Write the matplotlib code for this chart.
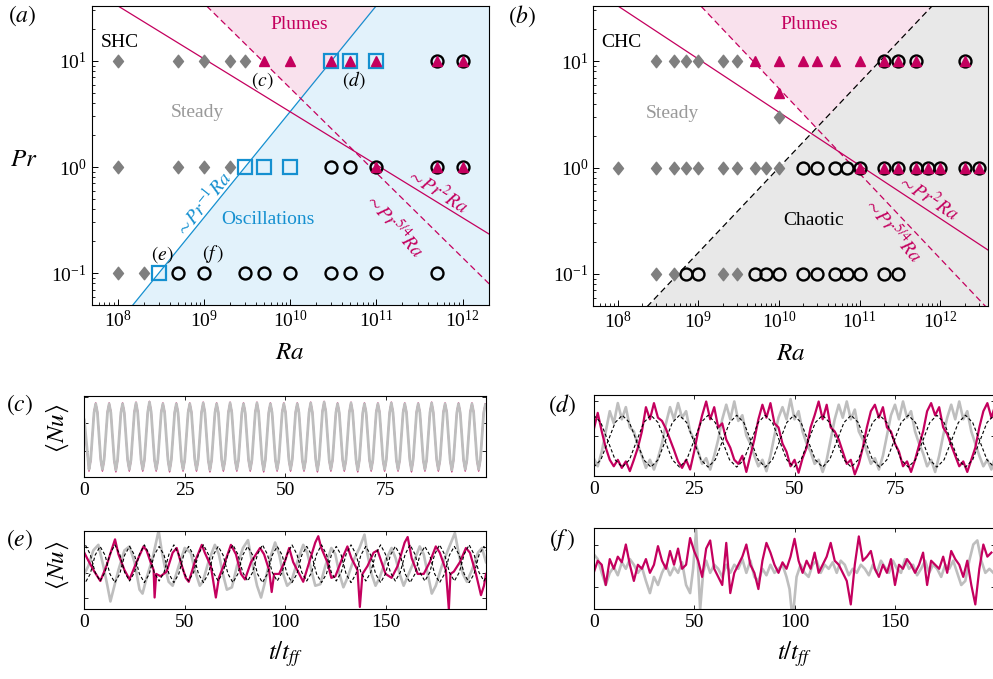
import numpy as np
import matplotlib
matplotlib.use("Agg")
import matplotlib.pyplot as plt
from matplotlib.path import Path

plt.rcParams['font.family'] = ['Liberation Serif', 'DejaVu Serif']
plt.rcParams['mathtext.fontset'] = 'stix'

# ---------------- colours ----------------
MAG = '#C4005E'
PINK = '#F9E1ED'
BLUE = '#1590D0'
LBLUE = '#E2F2FB'
GREYM = '#7F7F7F'
GFILL = '#E8E8E8'
GLINE = '#BEBEBE'

# ---------------- regime-diagram data (a) SHC ----------------
a_steady_Ra = [1e8, 5e8, 1e9, 2e9, 3e9, 1e8, 5e8, 1e9, 2e9, 1e8, 2e8]
a_steady_Pr = [10, 10, 10, 10, 10, 1, 1, 1, 1, 0.1, 0.1]
a_osc_Ra = [3e10, 5e10, 1e11, 3e9, 5e9, 1e10, 3e8]
a_osc_Pr = [10, 10, 10, 1, 1, 1, 0.1]
a_chaos_Ra = [5e11, 1e12, 3e10, 5e10, 1e11, 5e11, 1e12,
              5e8, 1e9, 3e9, 5e9, 1e10, 3e10, 5e10, 1e11, 5e11]
a_chaos_Pr = [10, 10, 1, 1, 1, 1, 1,
              0.1, 0.1, 0.1, 0.1, 0.1, 0.1, 0.1, 0.1, 0.1]
a_plume_Ra = [5e9, 1e10, 3e10, 5e10, 1e11, 5e11, 1e12, 1e11, 5e11, 1e12]
a_plume_Pr = [10, 10, 10, 10, 10, 10, 10, 1, 1, 1]

# ---------------- regime-diagram data (b) CHC ----------------
b_steady_Ra = [3e8, 5e8, 7e8, 1e9, 2e9, 3e9, 1e10,
               1e8, 3e8, 5e8, 7e8, 1e9, 2e9, 3e9, 5e9, 7e9, 1e10,
               3e8, 5e8, 2e9, 3e9]
b_steady_Pr = [10, 10, 10, 10, 10, 10, 3,
               1, 1, 1, 1, 1, 1, 1, 1, 1, 1,
               0.1, 0.1, 0.1, 0.1]
b_chaos_Ra = [2e11, 3e11, 5e11, 2e12,
              2e10, 3e10, 5e10, 7e10, 1e11, 2e11, 3e11, 5e11, 7e11, 1e12, 2e12, 3e12,
              7e8, 1e9, 5e9, 7e9, 1e10, 2e10, 3e10, 5e10, 7e10, 1e11, 2e11, 3e11]
b_chaos_Pr = [10, 10, 10, 10,
              1, 1, 1, 1, 1, 1, 1, 1, 1, 1, 1, 1,
              0.1, 0.1, 0.1, 0.1, 0.1, 0.1, 0.1, 0.1, 0.1, 0.1, 0.1, 0.1]
b_plume_Ra = [5e9, 1e10, 2e10, 3e10, 5e10, 1e11, 2e11, 3e11, 5e11, 2e12, 1e10,
              1e11, 2e11, 3e11, 5e11, 7e11, 1e12, 2e12, 3e12]
b_plume_Pr = [10, 10, 10, 10, 10, 10, 10, 10, 10, 10, 5,
              1, 1, 1, 1, 1, 1, 1, 1]

# scaling-law prefactors of the regime boundaries
C_osc = 3e9      # Pr^-1 Ra
C_pr2 = 1.1e11   # Pr^2 Ra
C_pr54 = 8.5e10  # Pr^(5/4) Ra
C_chc = 1e10     # Pr^(-5/4) Ra (CHC chaotic boundary)

# ---------------- time series ----------------
# (c): samples every 1/8 of the 3.345 t_ff oscillation period
c_t = [0.0] + list(np.round(np.arange(1.17, 100.2, 0.41813), 3))
c_grey = [0.70,
          0.09, 0.21, 0.50, 0.79, 0.90, 0.79, 0.50, 0.21,
          0.09, 0.21, 0.50, 0.79, 0.90, 0.79, 0.50, 0.21,
          0.08, 0.21, 0.50, 0.79, 0.90, 0.79, 0.50, 0.21,
          0.09, 0.21, 0.50, 0.79, 0.91, 0.79, 0.50, 0.21,
          0.09, 0.21, 0.50, 0.80, 0.92, 0.80, 0.50, 0.21,
          0.09, 0.21, 0.50, 0.79, 0.90, 0.79, 0.50, 0.21,
          0.08, 0.21, 0.50, 0.79, 0.90, 0.79, 0.50, 0.21,
          0.09, 0.21, 0.50, 0.79, 0.90, 0.79, 0.50, 0.21,
          0.09, 0.21, 0.50, 0.79, 0.91, 0.79, 0.50, 0.21,
          0.08, 0.21, 0.50, 0.79, 0.90, 0.79, 0.50, 0.21,
          0.09, 0.21, 0.50, 0.79, 0.91, 0.79, 0.50, 0.21,
          0.09, 0.21, 0.50, 0.79, 0.90, 0.79, 0.50, 0.21,
          0.09, 0.21, 0.50, 0.79, 0.91, 0.79, 0.50, 0.21,
          0.08, 0.21, 0.50, 0.79, 0.90, 0.79, 0.50, 0.21,
          0.09, 0.21, 0.50, 0.79, 0.90, 0.79, 0.50, 0.21,
          0.09, 0.21, 0.50, 0.79, 0.90, 0.79, 0.50, 0.21,
          0.09, 0.21, 0.50, 0.79, 0.91, 0.79, 0.50, 0.21,
          0.08, 0.21, 0.50, 0.80, 0.92, 0.80, 0.50, 0.21,
          0.09, 0.21, 0.50, 0.79, 0.90, 0.79, 0.50, 0.21,
          0.09, 0.21, 0.50, 0.79, 0.91, 0.79, 0.50, 0.21,
          0.08, 0.21, 0.50, 0.79, 0.90, 0.79, 0.50, 0.21,
          0.09, 0.21, 0.50, 0.79, 0.90, 0.79, 0.50, 0.21,
          0.09, 0.21, 0.50, 0.79, 0.91, 0.79, 0.50, 0.21,
          0.09, 0.21, 0.50, 0.79, 0.90, 0.79, 0.50, 0.21,
          0.08, 0.21, 0.50, 0.79, 0.90, 0.79, 0.50, 0.21,
          0.09, 0.21, 0.50, 0.79, 0.91, 0.79, 0.50, 0.21,
          0.09, 0.21, 0.50, 0.79, 0.90, 0.79, 0.50, 0.21,
          0.08, 0.21, 0.50, 0.79, 0.90, 0.79, 0.50, 0.21,
          0.09, 0.21, 0.50, 0.79, 0.90, 0.79, 0.50, 0.21,
          0.09, 0.21, 0.50, 0.79, 0.89]
c_mag = [0.68,
         0.07, 0.19, 0.50, 0.81, 0.91, 0.81, 0.50, 0.19,
         0.07, 0.19, 0.50, 0.81, 0.91, 0.81, 0.50, 0.19,
         0.06, 0.19, 0.50, 0.81, 0.91, 0.81, 0.50, 0.19,
         0.07, 0.19, 0.50, 0.81, 0.92, 0.81, 0.50, 0.19,
         0.07, 0.19, 0.50, 0.82, 0.93, 0.82, 0.50, 0.19,
         0.07, 0.19, 0.50, 0.81, 0.91, 0.81, 0.50, 0.19,
         0.06, 0.19, 0.50, 0.81, 0.91, 0.81, 0.50, 0.19,
         0.07, 0.19, 0.50, 0.81, 0.91, 0.81, 0.50, 0.19,
         0.07, 0.19, 0.50, 0.81, 0.92, 0.81, 0.50, 0.19,
         0.06, 0.19, 0.50, 0.81, 0.91, 0.81, 0.50, 0.19,
         0.07, 0.19, 0.50, 0.81, 0.92, 0.81, 0.50, 0.19,
         0.07, 0.19, 0.50, 0.81, 0.91, 0.81, 0.50, 0.19,
         0.07, 0.19, 0.50, 0.81, 0.92, 0.81, 0.50, 0.19,
         0.06, 0.19, 0.50, 0.81, 0.91, 0.81, 0.50, 0.19,
         0.07, 0.19, 0.50, 0.81, 0.91, 0.81, 0.50, 0.19,
         0.07, 0.19, 0.50, 0.81, 0.91, 0.81, 0.50, 0.19,
         0.07, 0.19, 0.50, 0.81, 0.92, 0.81, 0.50, 0.19,
         0.06, 0.19, 0.50, 0.82, 0.93, 0.82, 0.50, 0.19,
         0.07, 0.19, 0.50, 0.81, 0.91, 0.81, 0.50, 0.19,
         0.07, 0.19, 0.50, 0.81, 0.92, 0.81, 0.50, 0.19,
         0.06, 0.19, 0.50, 0.81, 0.91, 0.81, 0.50, 0.19,
         0.07, 0.19, 0.50, 0.81, 0.91, 0.81, 0.50, 0.19,
         0.07, 0.19, 0.50, 0.81, 0.92, 0.81, 0.50, 0.19,
         0.07, 0.19, 0.50, 0.81, 0.91, 0.81, 0.50, 0.19,
         0.06, 0.19, 0.50, 0.81, 0.91, 0.81, 0.50, 0.19,
         0.07, 0.19, 0.50, 0.81, 0.92, 0.81, 0.50, 0.19,
         0.07, 0.19, 0.50, 0.81, 0.91, 0.81, 0.50, 0.19,
         0.06, 0.19, 0.50, 0.81, 0.91, 0.81, 0.50, 0.19,
         0.07, 0.19, 0.50, 0.81, 0.91, 0.81, 0.50, 0.19,
         0.07, 0.19, 0.50, 0.81, 0.90]

d_t = list(range(101))
d_mag = [0.57, 0.78, 0.55, 0.35, 0.20, 0.12, 0.20, 0.10, 0.18, 0.06,
         0.20, 0.35, 0.55, 0.85, 0.70, 0.90, 0.72, 0.68, 0.58, 0.45,
         0.32, 0.18, 0.10, 0.20, 0.08, 0.30, 0.55, 0.75, 0.92, 0.70,
         0.85, 0.60, 0.65, 0.45, 0.35, 0.20, 0.15, 0.25, 0.05, 0.25,
         0.45, 0.70, 0.88, 0.72, 0.90, 0.65, 0.60, 0.40, 0.30, 0.12,
         0.20, 0.04, 0.22, 0.35, 0.60, 0.75, 0.92, 0.70, 0.88, 0.60,
         0.55, 0.45, 0.30, 0.15, 0.20, 0.02, 0.15, 0.35, 0.60, 0.80,
         0.88, 0.72, 0.85, 0.60, 0.55, 0.40, 0.30, 0.12, 0.18, 0.05,
         0.20, 0.38, 0.55, 0.80, 0.90, 0.75, 0.85, 0.60, 0.52, 0.38,
         0.25, 0.12, 0.18, 0.05, 0.20, 0.35, 0.60, 0.80, 0.90, 0.72, 0.88]
d_grey = [0.22, 0.12, 0.30, 0.55, 0.80, 0.65, 0.90, 0.70, 0.85, 0.60,
          0.55, 0.38, 0.25, 0.10, 0.20, 0.08, 0.22, 0.40, 0.65, 0.85,
          0.70, 0.90, 0.72, 0.80, 0.55, 0.45, 0.30, 0.15, 0.22, 0.08,
          0.25, 0.45, 0.70, 0.88, 0.70, 0.92, 0.68, 0.75, 0.50, 0.40,
          0.25, 0.12, 0.20, 0.06, 0.25, 0.50, 0.72, 0.85, 0.70, 0.95,
          0.70, 0.80, 0.55, 0.40, 0.30, 0.15, 0.20, 0.05, 0.20, 0.45,
          0.70, 0.88, 0.72, 0.92, 0.70, 0.82, 0.55, 0.45, 0.30, 0.15,
          0.22, 0.08, 0.25, 0.50, 0.75, 0.88, 0.70, 0.92, 0.72, 0.80,
          0.55, 0.40, 0.28, 0.12, 0.20, 0.05, 0.25, 0.50, 0.72, 0.88,
          0.70, 0.92, 0.70, 0.80, 0.55, 0.40, 0.25, 0.12, 0.20, 0.08, 0.25]
d_dash_t = [0, 1.78, 3.56, 5.34, 7.12, 8.90, 10.68, 12.46, 14.24, 16.02, 17.80, 19.58,
            21.36, 23.14, 24.92, 26.70, 28.48, 30.26, 32.04, 33.82, 35.60, 37.38, 39.16,
            40.94, 42.72, 44.50, 46.28, 48.06, 49.84, 51.62, 53.40, 55.18, 56.96, 58.74,
            60.52, 62.30, 64.08, 65.86, 67.64, 69.42, 71.20, 72.98, 74.76, 76.54, 78.32,
            80.10, 81.88, 83.66, 85.44, 87.22, 89.00, 90.78, 92.56, 94.34, 96.12, 97.90,
            99.68, 101.46]
d_dash_a = [0.75, 0.66, 0.43, 0.20, 0.11, 0.20, 0.43, 0.66,
            0.75, 0.66, 0.43, 0.20, 0.11, 0.20, 0.43, 0.66,
            0.75, 0.66, 0.43, 0.20, 0.11, 0.20, 0.43, 0.66,
            0.75, 0.66, 0.43, 0.20, 0.11, 0.20, 0.43, 0.66,
            0.75, 0.66, 0.43, 0.20, 0.11, 0.20, 0.43, 0.66,
            0.75, 0.66, 0.43, 0.20, 0.11, 0.20, 0.43, 0.66,
            0.75, 0.66, 0.43, 0.20, 0.11, 0.20, 0.43, 0.66,
            0.75, 0.66]
d_dash_b = [0.11, 0.20, 0.43, 0.66, 0.75, 0.66, 0.43, 0.20,
            0.11, 0.20, 0.43, 0.66, 0.75, 0.66, 0.43, 0.20,
            0.11, 0.20, 0.43, 0.66, 0.75, 0.66, 0.43, 0.20,
            0.11, 0.20, 0.43, 0.66, 0.75, 0.66, 0.43, 0.20,
            0.11, 0.20, 0.43, 0.66, 0.75, 0.66, 0.43, 0.20,
            0.11, 0.20, 0.43, 0.66, 0.75, 0.66, 0.43, 0.20,
            0.11, 0.20, 0.43, 0.66, 0.75, 0.66, 0.43, 0.20,
            0.11, 0.20]

e_mag_t = [0, 2, 5, 8, 11, 13.5, 15.3, 17, 20, 22.5, 26, 29.5, 31, 33, 34.5, 35, 35.8, 38, 41, 44,
           46, 48, 50.5, 52, 55, 58.5, 60, 63, 65.5, 67, 70, 73, 75.5, 78, 80, 83, 87.5, 89.5, 92, 93.3,
           94.5, 97, 100, 102, 104, 107, 109, 112, 115, 116.5, 118, 121, 123, 125, 128, 131, 133, 136,
           137.2, 138.5, 141, 144, 146, 148, 150, 153, 156, 159.5, 161, 163, 166, 169, 172, 175, 177,
           180, 181.5, 182.3, 184, 187, 190, 192, 195, 197.5, 199, 200]
e_mag = [0.72, 0.62, 0.48, 0.36, 0.55, 0.75, 0.89, 0.70, 0.50, 0.38, 0.60, 0.80, 0.75, 0.60, 0.50,
         0.15, 0.45, 0.42, 0.48, 0.72, 0.78, 0.60, 0.40, 0.35, 0.60, 0.82, 0.72, 0.55, 0.15, 0.40,
         0.60, 0.82, 0.70, 0.45, 0.38, 0.60, 0.78, 0.70, 0.50, 0.22, 0.45, 0.45, 0.62, 0.78, 0.60,
         0.45, 0.35, 0.60, 0.85, 0.93, 0.78, 0.60, 0.40, 0.42, 0.62, 0.80, 0.65, 0.50, 0.03, 0.45,
         0.55, 0.72, 0.75, 0.60, 0.45, 0.40, 0.55, 0.85, 0.92, 0.65, 0.45, 0.45, 0.60, 0.80, 0.72,
         0.50, 0.00, 0.45, 0.48, 0.60, 0.78, 0.72, 0.45, 0.18, 0.30, 0.45]
e_grey_t = [0, 2, 4.5, 7, 9.5, 11.5, 13, 14.5, 17, 20, 22.5, 25, 27.5, 29, 31, 34, 37, 38.5, 40, 42,
            44, 47, 50, 53, 55, 57.5, 59, 62, 65, 67, 69, 71, 73.5, 76, 79, 81.5, 83.5, 86, 88, 90,
            92.5, 95, 97, 99, 101, 103, 106, 109, 111, 113, 115, 117.5, 120, 123, 125, 127, 129, 131,
            134, 137, 139.5, 141, 143, 145, 147, 150, 153, 155, 157, 159, 161, 164, 167, 169, 171,
            173, 175, 178, 181, 184.5, 186.5, 188.5, 190.5, 193, 196, 198, 200]
e_grey = [0.45, 0.55, 0.75, 0.82, 0.55, 0.30, 0.10, 0.25, 0.50, 0.75, 0.80, 0.60, 0.25, 0.20, 0.40,
          0.65, 1.00, 0.75, 0.55, 0.35, 0.30, 0.55, 0.78, 0.72, 0.50, 0.30, 0.35, 0.62, 0.82, 0.70,
          0.45, 0.25, 0.28, 0.55, 0.78, 0.88, 0.60, 0.30, 0.15, 0.35, 0.65, 0.85, 0.70, 0.45, 0.30,
          0.35, 0.60, 0.82, 0.72, 0.50, 0.30, 0.32, 0.55, 0.78, 0.70, 0.45, 0.28, 0.40, 0.62, 0.78,
          0.95, 0.70, 0.45, 0.30, 0.40, 0.62, 0.78, 0.65, 0.45, 0.30, 0.42, 0.60, 0.80, 0.70, 0.45,
          0.20, 0.30, 0.55, 0.75, 0.97, 0.70, 0.45, 0.35, 0.50, 0.72, 0.78, 0.60]
e_dash_t = [-1.95, 0.5, 2.95, 5.4, 7.85, 10.3, 12.75, 15.2, 17.65, 20.1, 22.55, 25.0, 27.45, 29.9,
            32.35, 34.8, 37.25, 39.7, 42.15, 44.6, 47.05, 49.5, 51.95, 54.4, 56.85, 59.3, 61.75,
            64.2, 66.65, 69.1, 71.55, 74.0, 76.45, 78.9, 81.35, 83.8, 86.25, 88.7, 91.15, 93.6,
            96.05, 98.5, 100.95, 103.4, 105.85, 108.3, 110.75, 113.2, 115.65, 118.1, 120.55, 123.0,
            125.45, 127.9, 130.35, 132.8, 135.25, 137.7, 140.15, 142.6, 145.05, 147.5, 149.95,
            152.4, 154.85, 157.3, 159.75, 162.2, 164.65, 167.1, 169.55, 172.0, 174.45, 176.9,
            179.35, 181.8, 184.25, 186.7, 189.15, 191.6, 194.05, 196.5, 198.95, 201.4]
e_dash_a = [0.70, 0.82, 0.70, 0.47, 0.36, 0.47, 0.70, 0.82, 0.70, 0.47, 0.36, 0.47,
            0.70, 0.82, 0.70, 0.47, 0.36, 0.47, 0.70, 0.82, 0.70, 0.47, 0.36, 0.47,
            0.70, 0.82, 0.70, 0.47, 0.36, 0.47, 0.70, 0.82, 0.70, 0.47, 0.36, 0.47,
            0.70, 0.82, 0.70, 0.47, 0.36, 0.47, 0.70, 0.82, 0.70, 0.47, 0.36, 0.47,
            0.70, 0.82, 0.70, 0.47, 0.36, 0.47, 0.70, 0.82, 0.70, 0.47, 0.36, 0.47,
            0.70, 0.82, 0.70, 0.47, 0.36, 0.47, 0.70, 0.82, 0.70, 0.47, 0.36, 0.47,
            0.70, 0.82, 0.70, 0.47, 0.36, 0.47, 0.70, 0.82, 0.70, 0.47, 0.36, 0.47]
e_dash_b = [0.45, 0.34, 0.45, 0.69, 0.80, 0.69, 0.45, 0.34, 0.45, 0.69, 0.80, 0.69,
            0.45, 0.34, 0.45, 0.69, 0.80, 0.69, 0.45, 0.34, 0.45, 0.69, 0.80, 0.69,
            0.45, 0.34, 0.45, 0.69, 0.80, 0.69, 0.45, 0.34, 0.45, 0.69, 0.80, 0.69,
            0.45, 0.34, 0.45, 0.69, 0.80, 0.69, 0.45, 0.34, 0.45, 0.69, 0.80, 0.69,
            0.45, 0.34, 0.45, 0.69, 0.80, 0.69, 0.45, 0.34, 0.45, 0.69, 0.80, 0.69,
            0.45, 0.34, 0.45, 0.69, 0.80, 0.69, 0.45, 0.34, 0.45, 0.69, 0.80, 0.69,
            0.45, 0.34, 0.45, 0.69, 0.80, 0.69, 0.45, 0.34, 0.45, 0.69, 0.80, 0.69]

f_mag_t = list(range(0, 200, 2))
f_mag = [0.45, 0.60, 0.55, 0.30, 0.62, 0.50, 0.65, 0.58, 0.80, 0.55,
         0.35, 0.55, 0.50, 0.62, 0.45, 0.55, 0.78, 0.60, 0.50, 0.72,
         0.55, 0.75, 0.50, 0.55, 0.88, 0.72, 0.60, 0.40, 0.75, 0.85,
         0.50, 0.40, 0.30, 0.82, 0.20, 0.45, 0.55, 0.65, 0.80, 0.55,
         0.45, 0.25, 0.60, 0.82, 0.70, 0.55, 0.45, 0.58, 0.50, 0.65,
         0.87, 0.60, 0.45, 0.60, 0.50, 0.70, 0.45, 0.55, 0.65, 0.82,
         0.60, 0.55, 0.45, 0.35, 0.06, 0.55, 0.90, 0.60, 0.65, 0.72,
         0.50, 0.40, 0.55, 0.45, 0.62, 0.30, 0.55, 0.50, 0.62, 0.55,
         0.45, 0.55, 0.70, 0.30, 0.60, 0.55, 0.50, 0.65, 0.45, 0.72,
         0.62, 0.55, 0.40, 0.60, 0.30, 0.06, 0.50, 0.80, 0.65, 0.70]
f_grey_t = [0, 2, 4, 6, 8, 10, 12, 14, 16, 18, 20, 22, 24, 26, 28, 30, 32, 34, 36, 38, 40, 42, 44,
            46, 48, 49.5, 51, 52, 53, 54.5, 56, 58, 60, 62, 64, 66, 68, 70, 72, 74, 76, 78, 80, 82,
            84, 86, 88, 90, 92, 94, 96, 97.5, 98.5, 99.5, 101, 103, 105, 107, 109, 111, 113, 115,
            117, 119, 121, 123, 125, 127, 129, 131, 133, 135, 137, 139, 141, 143, 145, 147, 149,
            151, 153, 155, 157, 159, 161, 163, 165, 167, 169, 171, 173, 175, 177, 179, 181, 183,
            185, 187, 189, 191, 193, 195, 197, 199]
f_grey = [0.68, 0.62, 0.45, 0.30, 0.45, 0.52, 0.42, 0.58, 0.50, 0.62, 0.55, 0.45, 0.52, 0.35,
          0.20, 0.40, 0.30, 0.45, 0.55, 0.42, 0.52, 0.45, 0.58, 0.30, 0.20,
          0.50, 0.98, 0.50, 0.00, 0.45,
          0.60, 0.45, 0.55, 0.50, 0.40, 0.55, 0.45, 0.55, 0.50, 0.62, 0.45, 0.60, 0.40, 0.35,
          0.50, 0.42, 0.55, 0.45, 0.50, 0.55, 0.40,
          0.25, 0.00, 0.00,
          0.40, 0.55, 0.45, 0.40, 0.55, 0.60, 0.45, 0.55, 0.50, 0.58,
          0.45, 0.60, 0.55, 0.42, 0.50, 0.45, 0.55, 0.50, 0.42, 0.55,
          0.45, 0.60, 0.52, 0.45, 0.60, 0.50, 0.45, 0.62, 0.50, 0.55,
          0.42, 0.50, 0.60, 0.45, 0.55, 0.50, 0.40, 0.55, 0.50, 0.60,
          0.45, 0.30, 0.35, 0.60, 0.80, 0.85, 0.60, 0.45, 0.50, 0.45]

# ---------------- figure ----------------
W, H = 993, 679
fig = plt.figure(figsize=(W / 100, H / 100), dpi=100)


def rect(l, t, r, b):
    return [l / W, 1 - b / H, (r - l) / W, (b - t) / H]


diamond = Path([(0, 1), (0.8, 0), (0, -1), (-0.8, 0), (0, 1)],
               [Path.MOVETO, Path.LINETO, Path.LINETO, Path.LINETO, Path.CLOSEPOLY])

TS = 14  # tick label size


def regime_axes(ax, xmax):
    ax.set_xscale('log')
    ax.set_yscale('log')
    ax.set_xlim(5e7, xmax)
    ax.set_ylim(0.05, 33)
    ax.tick_params(which='both', direction='in', labelsize=TS)
    ax.tick_params(which='major', length=4.5, width=0.7)
    ax.tick_params(which='minor', length=2.3, width=0.6)
    ax.set_xticks([1e8, 1e9, 1e10, 1e11, 1e12])
    ax.set_yticks([0.1, 1, 10])
    for s in ax.spines.values():
        s.set_linewidth(0.8)
    ax.set_xlabel(r'$Ra$', fontsize=18, labelpad=8)


def markers(ax, steady, chaos, plume, osc=None):
    ax.plot(steady[0], steady[1], ls='none', marker=diamond, ms=9, color=GREYM, mec=GREYM, zorder=5)
    if osc is not None:
        ax.plot(osc[0], osc[1], ls='none', marker='s', ms=9.5, mfc='none', mec=BLUE, mew=1.6, zorder=6)
    ax.plot(chaos[0], chaos[1], ls='none', marker='o', ms=8.6, mfc='none', mec='black', mew=1.7, zorder=6)
    ax.plot(plume[0], plume[1], ls='none', marker='^', ms=7.2, color=MAG, mec=MAG, zorder=7)


# ---- (a) ----
axa = fig.add_axes(rect(91.7, 6, 488.7, 305))
regime_axes(axa, 2e12)
Rg = np.logspace(7, 13, 600)
axa.fill_between(Rg, 1e-3, Rg / C_osc, color=LBLUE, lw=0, zorder=0)
low_a = np.maximum(Rg / C_osc, (C_pr54 / Rg) ** 0.8)
axa.fill_between(Rg, low_a, 1e3, where=low_a < 1e3, color=PINK, lw=0, zorder=0)
axa.plot(Rg, Rg / C_osc, color=BLUE, lw=0.9, zorder=2)
axa.plot(Rg, (C_pr2 / Rg) ** 0.5, color=MAG, lw=0.9, zorder=2)
axa.plot(Rg, (C_pr54 / Rg) ** 0.8, color=MAG, lw=0.9, ls=(0, (5, 3)), zorder=2)
markers(axa, (a_steady_Ra, a_steady_Pr), (a_chaos_Ra, a_chaos_Pr),
        (a_plume_Ra, a_plume_Pr), (a_osc_Ra, a_osc_Pr))
axa.set_xlim(5e7, 2e12)
axa.set_ylim(0.05, 33)
axa.text(1.06e8, 15.1, 'SHC', fontsize=14, ha='center', va='center')
axa.text(1.27e10, 22.2, 'Plumes', fontsize=14, color=MAG, ha='center', va='center')
axa.text(8.3e8, 3.25, 'Steady', fontsize=14, color='#999999', ha='center', va='center')
axa.text(5.5e9, 0.32, 'Oscillations', fontsize=14, color=BLUE, ha='center', va='center')
axa.text(9.8e8, 0.445, r'$\sim\!Pr^{-1}Ra$', fontsize=14, color=BLUE, ha='center', va='center', rotation=51)
axa.text(5.0e11, 0.60, r'$\sim\!Pr^{2}Ra$', fontsize=14, color=MAG, ha='center', va='center', rotation=-32)
axa.text(1.6e11, 0.28, r'$\sim\!Pr^{5/4}Ra$', fontsize=14, color=MAG, ha='center', va='center', rotation=-49)
axa.text(4.7e9, 6.6, r'$(c)$', fontsize=14, ha='center', va='center')
axa.text(5.4e10, 6.6, r'$(d)$', fontsize=14, ha='center', va='center')
axa.text(3.3e8, 0.15, r'$(e)$', fontsize=14, ha='center', va='center')
axa.text(1.28e9, 0.15, r'$(f\,)$', fontsize=14, ha='center', va='center')

# ---- (b) ----
axb = fig.add_axes(rect(593.3, 6, 988, 306))
regime_axes(axb, 3.9e12)
axb.fill_between(Rg, 1e-3, (Rg / C_chc) ** 0.8, color=GFILL, lw=0, zorder=0)
low_b = np.maximum((Rg / C_chc) ** 0.8, (C_pr54 / Rg) ** 0.8)
axb.fill_between(Rg, low_b, 1e3, where=low_b < 1e3, color=PINK, lw=0, zorder=0)
axb.plot(Rg, (Rg / C_chc) ** 0.8, color='black', lw=0.9, ls=(0, (5, 3)), zorder=2)
axb.plot(Rg, (C_pr2 / Rg) ** 0.5, color=MAG, lw=0.9, zorder=2)
axb.plot(Rg, (C_pr54 / Rg) ** 0.8, color=MAG, lw=0.9, ls=(0, (5, 3)), zorder=2)
markers(axb, (b_steady_Ra, b_steady_Pr), (b_chaos_Ra, b_chaos_Pr), (b_plume_Ra, b_plume_Pr))
axb.set_xlim(5e7, 3.9e12)
axb.set_ylim(0.05, 33)
axb.text(1.13e8, 15.1, 'CHC', fontsize=14, ha='center', va='center')
axb.text(2.4e10, 22.2, 'Plumes', fontsize=14, color=MAG, ha='center', va='center')
axb.text(4.8e8, 3.25, 'Steady', fontsize=14, color='#999999', ha='center', va='center')
axb.text(2.7e10, 0.32, 'Chaotic', fontsize=14, color='black', ha='center', va='center')
axb.text(7.0e11, 0.53, r'$\sim\!Pr^{2}Ra$', fontsize=14, color=MAG, ha='center', va='center', rotation=-33)
axb.text(2.57e11, 0.26, r'$\sim\!Pr^{5/4}Ra$', fontsize=14, color=MAG, ha='center', va='center', rotation=-50)

fig.text(22 / W, 1 - 16 / H, r'$(a)$', fontsize=17, ha='center', va='center')
fig.text(522 / W, 1 - 16 / H, r'$(b)$', fontsize=17, ha='center', va='center')
fig.text(24 / W, 1 - 160 / H, r'$Pr$', fontsize=18, ha='center', va='center')


# ---- time-series panels ----
def ts_axes(ax, xmax, xticks, yticks):
    ax.set_xlim(0, xmax)
    ax.set_ylim(0, 1)
    ax.set_xticks(xticks)
    ax.set_yticks(yticks)
    ax.set_yticklabels([])
    ax.tick_params(direction='in', top=True, right=True, length=3, width=0.6, labelsize=TS)
    for s in ax.spines.values():
        s.set_linewidth(0.8)


axc = fig.add_axes(rect(84.3, 395.7, 486, 476.7))
ts_axes(axc, 100, [0, 25, 50, 75], [0.32, 0.66, 0.99])
axc.plot(c_t, c_mag, color=MAG, lw=1.0)
axc.plot(c_t, c_grey, color=GLINE, lw=2.0)

axd = fig.add_axes(rect(593.7, 395, 995.4, 476))
ts_axes(axd, 100, [0, 25, 50, 75], [0.5, 0.93])
axd.plot(d_t, d_grey, color=GLINE, lw=1.9)
axd.plot(d_t, d_mag, color=MAG, lw=1.6)
axd.plot(d_dash_t, d_dash_a, color='black', lw=0.8, ls=(0, (3, 2)))
axd.plot(d_dash_t, d_dash_b, color='black', lw=0.8, ls=(0, (3, 2)))

axe = fig.add_axes(rect(84.3, 530.7, 486, 609.3))
ts_axes(axe, 200, [0, 50, 100, 150], [0.15, 0.46, 0.79])
axe.plot(e_grey_t, e_grey, color=GLINE, lw=1.9)
axe.plot(e_mag_t, e_mag, color=MAG, lw=1.6)
axe.plot(e_dash_t, e_dash_a, color='black', lw=0.8, ls=(0, (3, 2)))
axe.plot(e_dash_t, e_dash_b, color='black', lw=0.8, ls=(0, (3, 2)))
axe.set_xlabel(r'$t/t_{ff}$', fontsize=18, labelpad=6)

axf = fig.add_axes(rect(593.7, 528.3, 995.4, 609.3))
ts_axes(axf, 200, [0, 50, 100, 150], [0.27, 0.79])
axf.plot(f_grey_t, f_grey, color=GLINE, lw=1.9)
axf.plot(f_mag_t, f_mag, color=MAG, lw=1.6)
axf.set_xlabel(r'$t/t_{ff}$', fontsize=18, labelpad=6)

fig.text(20 / W, 1 - 405 / H, r'$(c)$', fontsize=17, ha='center', va='center')
fig.text(562 / W, 1 - 405 / H, r'$(d)$', fontsize=17, ha='center', va='center')
fig.text(20 / W, 1 - 540 / H, r'$(e)$', fontsize=17, ha='center', va='center')
fig.text(562 / W, 1 - 540 / H, r'$(f\,)$', fontsize=17, ha='center', va='center')
fig.text(58 / W, 1 - 428 / H, r'$\langle Nu\rangle$', fontsize=18, rotation=90, ha='center', va='center')
fig.text(58 / W, 1 - 565 / H, r'$\langle Nu\rangle$', fontsize=18, rotation=90, ha='center', va='center')

fig.savefig('out.png', dpi=100)
